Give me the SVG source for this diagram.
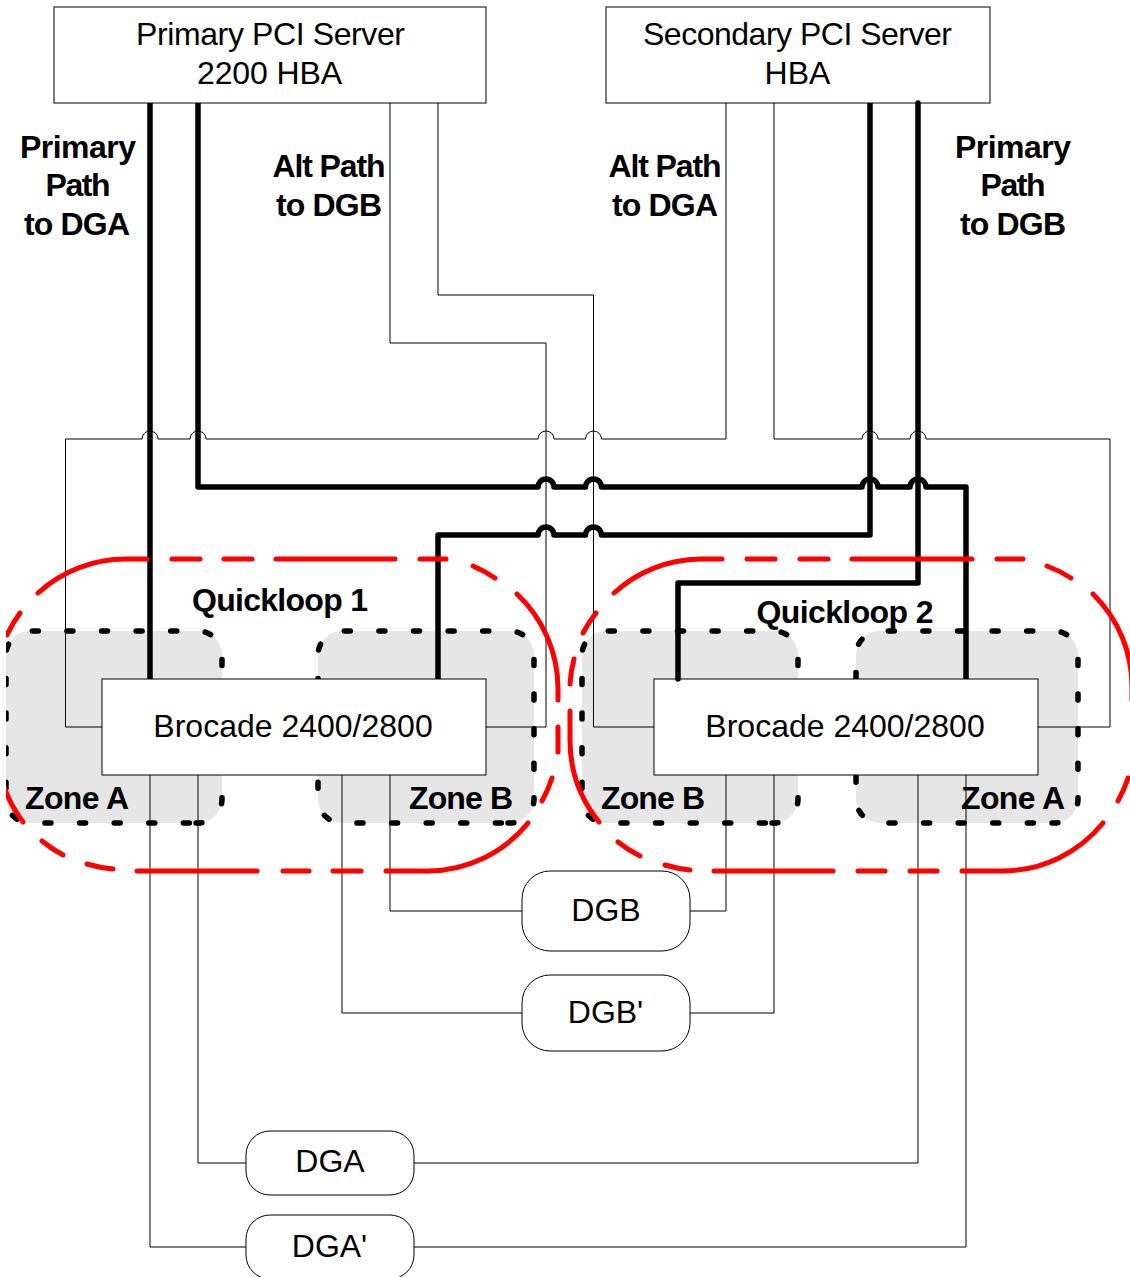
<svg xmlns="http://www.w3.org/2000/svg" width="1130" height="1277" viewBox="0 0 1130 1277">
<style>
text{font-family:"Liberation Sans",Arial,sans-serif;font-size:32px;fill:#000;text-anchor:middle}
.b{font-weight:bold}
.box{fill:#fff;stroke:#000;stroke-width:1}
.thin{fill:none;stroke:#000;stroke-width:1}
.thick{fill:none;stroke:#000;stroke-width:5.500;stroke-linejoin:round}
.cap{stroke-linecap:round}
.red{fill:none;stroke:#f00;stroke-width:5;stroke-linecap:round}
.zf{fill:#e6e6e6}
.zd{fill:none;stroke:#000;stroke-width:5.500;stroke-linecap:round;stroke-dasharray:6 28.6}
</style>
<defs><clipPath id="c"><rect x="6" y="0" width="1124" height="1277"/></clipPath></defs>
<g clip-path="url(#c)">
<g id="zone-a1"><rect class="zf" x="6" y="631" width="216" height="192" rx="24"/><path class="zd" d="M196 823H198A24 24 0 0 0 222 799V655A24 24 0 0 0 198 631H30A24 24 0 0 0 6 655V799A24 24 0 0 0 30 823Z"/></g>
<g id="zone-b1"><rect class="zf" x="318" y="631" width="216" height="192" rx="24"/><path class="zd" d="M508 823H510A24 24 0 0 0 534 799V655A24 24 0 0 0 510 631H342A24 24 0 0 0 318 655V799A24 24 0 0 0 342 823Z"/></g>
<g id="zone-b2"><rect class="zf" x="582" y="631" width="216" height="192" rx="24"/><path class="zd" d="M772 823H774A24 24 0 0 0 798 799V655A24 24 0 0 0 774 631H606A24 24 0 0 0 582 655V799A24 24 0 0 0 606 823Z"/></g>
<g id="zone-a2"><rect class="zf" x="856" y="631" width="222" height="192" rx="24"/><path class="zd" d="M1052 823H1054A24 24 0 0 0 1078 799V655A24 24 0 0 0 1054 631H880A24 24 0 0 0 856 655V799A24 24 0 0 0 880 823Z"/></g>
</g>
<g id="primary-server"><rect class="box" x="54" y="7" width="432" height="96"/><text x="270.500" y="45" textLength="269">Primary PCI Server</text><text x="269.500" y="84" textLength="145">2200 HBA</text></g>
<g id="secondary-server"><rect class="box" x="606" y="7" width="384" height="96"/><text x="797.500" y="45" textLength="309">Secondary PCI Server</text><text x="797.500" y="84">HBA</text></g>
<g id="brocade-1"><rect class="box" x="102" y="679" width="384" height="96"/><text x="293" y="737">Brocade 2400/2800</text></g>
<g id="brocade-2"><rect class="box" x="654" y="679" width="384" height="96"/><text x="845" y="737">Brocade 2400/2800</text></g>
<g id="dgb"><rect class="box" x="522" y="871" width="168" height="80" rx="28"/><text x="606" y="921">DGB</text></g>
<g id="dgb-prime"><rect class="box" x="522" y="975" width="168" height="76" rx="28"/><text x="605.500" y="1023">DGB'</text></g>
<g id="dga"><rect class="box" x="246" y="1131" width="168" height="64" rx="24"/><text x="330" y="1172">DGA</text></g>
<g id="dga-prime"><rect class="box" x="246" y="1215" width="168" height="64" rx="24"/><text x="329.500" y="1257">DGA'</text></g>
<g id="connectors">
<path class="thin" d="M390 103V343H546V727H486"/>
<path class="thin" d="M438 103V295H593.500V727H654"/>
<path class="thin" d="M726 103V439H601.500A8 8 0 0 0 585.500 439H554A8 8 0 0 0 538 439H206A8 8 0 0 0 190 439H158A8 8 0 0 0 142 439H65.500V727H102"/>
<path class="thin" d="M774 103V439H862A8 8 0 0 1 878 439H910A8 8 0 0 1 926 439H1110V727H1038"/>
<path class="thin" d="M150 775V1247H246"/>
<path class="thin" d="M198 775V1163H246"/>
<path class="thin" d="M342 775V1013H522"/>
<path class="thin" d="M390 775V911H522"/>
<path class="thin" d="M726 775V911H690"/>
<path class="thin" d="M774 775V1013H690"/>
<path class="thin" d="M918 775V1163H414"/>
<path class="thin" d="M966 775V1247H414"/>
<path class="thick" d="M150 103V679"/>
<path class="thick" d="M198 103V487H538A8 8 0 0 1 554 487H585.500A8 8 0 0 1 601.500 487H862A8 8 0 0 1 878 487H910A8 8 0 0 1 926 487H966V679"/>
<path class="thick" d="M870 103V535H601.500A8 8 0 0 0 585.500 535H554A8 8 0 0 0 538 535H438V679"/>
<path class="thick cap" d="M918 103V583H678V679"/>
</g>
<g clip-path="url(#c)">
<g id="quickloop-1-boundary">
<path class="red" d="M38 593A130 130 0 0 1 127 559H147M172 559H200M224 559H252M276 559H395M420 559H446M473 566A130 130 0 0 1 495 578M517 594A130 130 0 0 1 558 689V700M558 727V752M552 778A130 130 0 0 1 542 801M528 823A130 130 0 0 1 428 871H386M361 871H333M309 871H283M257 871H137M113 869A130 130 0 0 1 87 864M63 855A130 130 0 0 1 42 841M23 822A130 130 0 0 1 -3 741M7 635A130 130 0 0 1 20 613"/>
</g>
<g id="quickloop-2-boundary">
<path class="red" d="M614 593A130 130 0 0 1 700 559H722M747 559H775M800 559H828M852 559H972M997 559H1023M1047 566A130 130 0 0 1 1071 578M1093 594A130 130 0 0 1 1132 689V700M1128 778A130 130 0 0 1 1118 801M1103 823A130 130 0 0 1 1002 871H962M937 871H910M885 871H858M833 871H714M690 870A130 130 0 0 1 665 865M640 856A130 130 0 0 1 618 842M599 822A130 130 0 0 1 570 741V711M570 684A130 130 0 0 1 574 659M583 633A130 130 0 0 1 596 613"/>
</g>
</g>
<g id="labels">
<text class="b" x="78" y="158" textLength="116">Primary</text><text class="b" x="78" y="196" textLength="65">Path</text><text class="b" x="77" y="235" textLength="106">to DGA</text>
<text class="b" x="329" y="177" textLength="113">Alt Path</text><text class="b" x="329" y="216" textLength="106">to DGB</text>
<text class="b" x="665" y="177" textLength="113">Alt Path</text><text class="b" x="665" y="216" textLength="106">to DGA</text>
<text class="b" x="1013" y="158" textLength="116">Primary</text><text class="b" x="1013" y="196" textLength="65">Path</text><text class="b" x="1013" y="235" textLength="106">to DGB</text>
<text class="b" x="280" y="611" textLength="176">Quickloop 1</text><text class="b" x="845" y="623" textLength="177">Quickloop 2</text>
<text class="b" x="77" y="809" textLength="104">Zone A</text><text class="b" x="461" y="809" textLength="104">Zone B</text><text class="b" x="653" y="809" textLength="104">Zone B</text><text class="b" x="1013" y="809" textLength="104">Zone A</text>
</g>
</svg>
